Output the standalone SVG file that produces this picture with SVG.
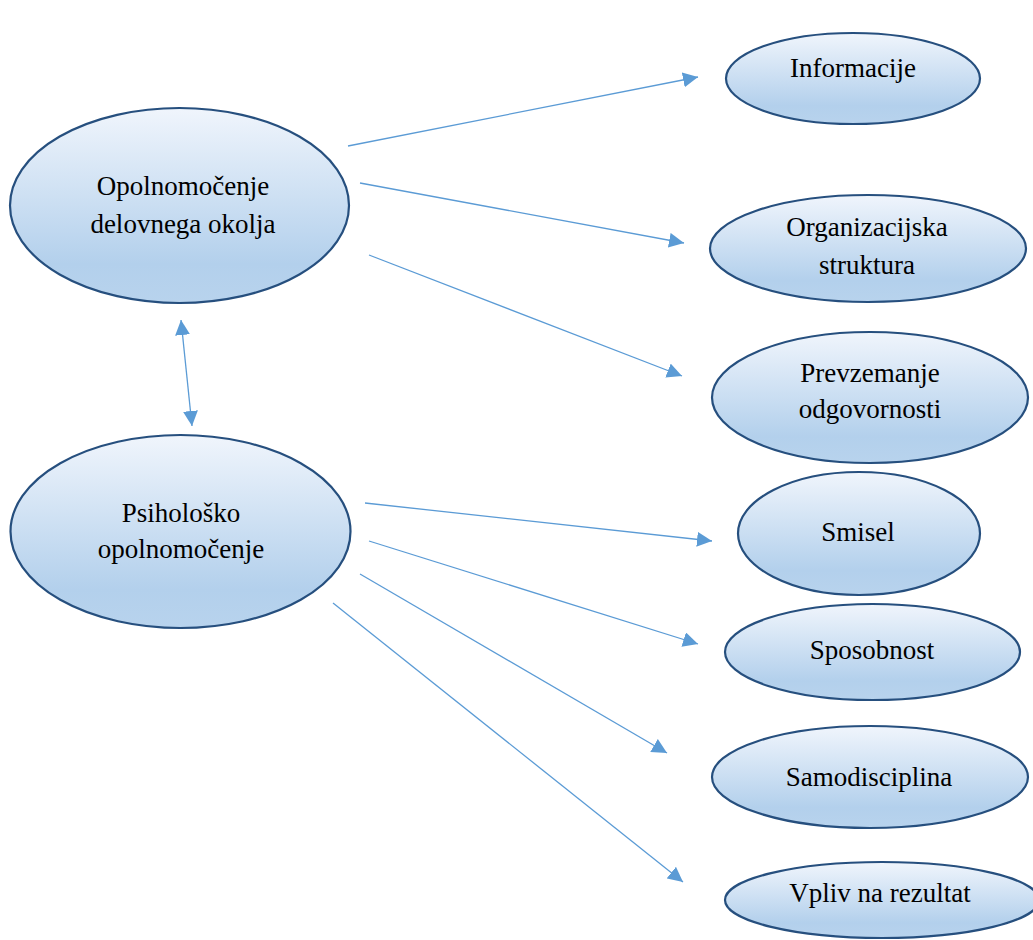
<svg xmlns="http://www.w3.org/2000/svg" width="1033" height="940" viewBox="0 0 1033 940">
  <defs>
    <linearGradient id="fill" x1="0" y1="0" x2="0" y2="1">
      <stop offset="0" stop-color="#f0f5fc"/>
      <stop offset="0.8" stop-color="#b3d0ec"/>
      <stop offset="1" stop-color="#b8d3ed"/>
    </linearGradient>
    <marker id="arrow" viewBox="0 0 10 10" refX="10" refY="5" markerWidth="15" markerHeight="15" markerUnits="userSpaceOnUse" orient="auto-start-reverse">
      <path d="M0,0 L10,5 L0,10 Z" fill="#5b9bd5"/>
    </marker>
  </defs>
  <style>
    .node ellipse { fill: url(#fill); stroke: #264f7e; stroke-width: 2.2; }
    .node text { font-family: "Liberation Serif", "Times New Roman", serif; font-size: 27px; fill: #000; text-anchor: middle; }
    .edges line { stroke: #5b9bd5; stroke-width: 1.3; fill: none; marker-end: url(#arrow); }
  </style>
  <rect width="1033" height="940" fill="#ffffff"/>

  <g class="edges">
    <line x1="348" y1="146" x2="698" y2="77"/>
    <line x1="360" y1="183" x2="684" y2="243"/>
    <line x1="369" y1="255" x2="682" y2="376"/>
    <line x1="181" y1="320" x2="192" y2="426" marker-start="url(#arrow)"/>
    <line x1="365" y1="503" x2="712" y2="541"/>
    <line x1="369" y1="541" x2="698" y2="644"/>
    <line x1="360" y1="574" x2="667" y2="753"/>
    <line x1="333" y1="603" x2="683" y2="882"/>
  </g>

  <g id="node-opolnomocenje-okolja" class="node">
    <ellipse cx="179.5" cy="205.5" rx="169.5" ry="97.5"/>
    <text x="183" y="195">Opolnomočenje</text>
    <text x="183" y="233">delovnega okolja</text>
  </g>
  <g id="node-psiholosko" class="node">
    <ellipse cx="180.5" cy="531.5" rx="170" ry="96.5"/>
    <text x="181" y="522">Psihološko</text>
    <text x="181" y="558">opolnomočenje</text>
  </g>
  <g id="node-informacije" class="node">
    <ellipse cx="853" cy="78.5" rx="127" ry="45.5"/>
    <text x="853" y="77">Informacije</text>
  </g>
  <g id="node-organizacijska" class="node">
    <ellipse cx="868" cy="248.5" rx="158" ry="53.5"/>
    <text x="867" y="236">Organizacijska</text>
    <text x="867" y="274">struktura</text>
  </g>
  <g id="node-prevzemanje" class="node">
    <ellipse cx="870" cy="397.5" rx="158" ry="65.5"/>
    <text x="870" y="382">Prevzemanje</text>
    <text x="870" y="418">odgovornosti</text>
  </g>
  <g id="node-smisel" class="node">
    <ellipse cx="859" cy="533.5" rx="121" ry="61.5"/>
    <text x="858" y="541">Smisel</text>
  </g>
  <g id="node-sposobnost" class="node">
    <ellipse cx="872.5" cy="652" rx="147.5" ry="48"/>
    <text x="872" y="659">Sposobnost</text>
  </g>
  <g id="node-samodisciplina" class="node">
    <ellipse cx="870" cy="777" rx="158" ry="51"/>
    <text x="869" y="786">Samodisciplina</text>
  </g>
  <g id="node-vpliv" class="node">
    <ellipse cx="882" cy="900" rx="157" ry="38"/>
    <text x="880" y="902">Vpliv na rezultat</text>
  </g>
</svg>
